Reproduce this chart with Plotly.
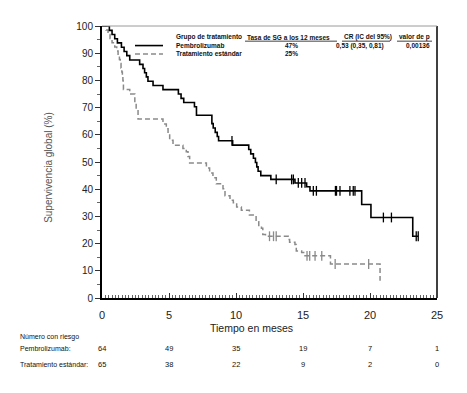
import plotly.graph_objects as go

# ---------------- data ----------------
pembro_event_t = [0.55, 0.75, 0.95, 1.15, 1.45, 1.65, 1.85, 2.07, 2.81, 3.06,
                  3.18, 3.31, 3.43, 3.81, 4.55, 5.70, 5.90, 6.10, 6.90, 7.05,
                  8.20, 8.30, 8.45, 8.60, 8.70, 9.75, 10.95, 11.10, 11.30, 11.45,
                  11.55, 11.65, 11.85, 12.60, 14.40, 15.27, 15.52, 19.38, 20.07, 23.19]
pembro_surv = [98.4, 96.9, 95.3, 93.8, 92.2, 90.6, 89.1, 87.5, 85.9, 84.4,
               82.8, 81.3, 79.7, 78.1, 76.6, 75.0, 73.4, 71.9, 70.3, 67.2,
               64.1, 62.5, 60.9, 59.4, 57.8, 56.2, 54.6, 53.0, 51.4, 49.8,
               48.2, 46.6, 45.0, 43.6, 42.3, 40.9, 39.4, 34.4, 29.6, 22.7]
pembro_end = 23.6
pembro_censor_t = [9.70, 13.0, 14.15, 14.28, 14.65, 14.90, 15.15, 15.77, 16.0,
                   17.42, 17.50, 17.76, 18.50, 18.75, 18.88, 21.0, 21.6, 23.45, 23.6]

std_event_t = [0.30, 0.45, 0.60, 0.75, 0.95, 1.10, 1.20, 1.30, 1.36, 1.42,
               1.48, 1.52, 1.56, 1.58, 1.60, 2.07, 2.45, 2.55, 2.69, 4.55,
               4.80, 4.93, 5.05, 5.30, 6.04, 6.29, 6.42, 6.54, 7.79, 8.03,
               8.28, 8.53, 9.03, 9.18, 9.55, 9.80, 10.05, 10.40, 11.00, 11.50,
               11.70, 11.90, 12.00, 12.20, 13.90, 14.00, 14.40, 14.50, 14.90, 15.15,
               17.05, 20.75]
std_surv = [98.5, 96.9, 95.4, 93.8, 92.3, 90.8, 89.2, 87.7, 86.2, 84.6,
            83.1, 81.5, 80.0, 78.5, 76.7, 75.0, 71.8, 69.4, 65.8, 64.0,
            62.2, 60.4, 58.0, 56.2, 55.0, 53.8, 52.0, 49.6, 47.8, 46.0,
            44.2, 42.0, 40.2, 37.6, 35.9, 35.0, 33.5, 32.3, 30.5, 28.0,
            26.3, 25.6, 23.3, 22.7, 21.5, 20.5, 19.7, 17.3, 16.7, 15.5,
            12.5, 6.3]
std_end = 20.75
std_censor_t = [12.5, 12.8, 13.0, 15.3, 15.5, 15.9, 16.4, 17.4, 19.9]

risk_times = [0, 5, 10, 15, 20, 25]
risk_pembro = [64, 49, 35, 19, 7, 1]
risk_std = [65, 38, 22, 9, 2, 0]

x_ticks = [0, 5, 10, 15, 20, 25]
y_ticks = [0, 10, 20, 30, 40, 50, 60, 70, 80, 90, 100]

group_names = ["Pembrolizumab", "Tratamiento estándar"]
rate_12m = ["47%", "25%"]
hr_text = "0,53 (0,35, 0,81)"
p_text = "0,00136"

# ---------------- helpers ----------------
def step_xy(ev_t, surv, end):
    xs = [0.0] + list(ev_t)
    ys = [100.0] + list(surv)
    if end > xs[-1]:
        xs.append(end)
        ys.append(ys[-1])
    return xs, ys

def surv_at(ev_t, surv, t):
    s = 100.0
    for et, sv in zip(ev_t, surv):
        if et <= t:
            s = sv
    return s

# screen geometry (page has an 8px body margin)
OFF = 8
SW, SH = 467, 393
W, H = SW - OFF, SH - OFF
L, R, T, B = 102, 437, 20, 298   # plot box in screen pixels

def px(x):
    return (x - L) / (R - L)

def py(y):
    return (B - y) / (B - T)

FONT = "Liberation Sans, Arial, sans-serif"

fig = go.Figure()

px_, py_ = step_xy(pembro_event_t, pembro_surv, pembro_end)
sx_, sy_ = step_xy(std_event_t, std_surv, std_end)

GRAY = "#8a8a8a"
fig.add_trace(go.Scatter(x=sx_, y=sy_, mode="lines", line_shape="hv",
                         line=dict(color=GRAY, width=1.5, dash="5px,3px"),
                         showlegend=False, hoverinfo="skip"))
fig.add_trace(go.Scatter(x=px_, y=py_, mode="lines", line_shape="hv",
                         line=dict(color="black", width=1.6),
                         showlegend=False, hoverinfo="skip"))

fig.add_trace(go.Scatter(x=std_censor_t,
                         y=[surv_at(std_event_t, std_surv, t) for t in std_censor_t],
                         mode="markers",
                         marker=dict(symbol="line-ns", size=7,
                                     line=dict(color=GRAY, width=1.3)),
                         showlegend=False, hoverinfo="skip"))
fig.add_trace(go.Scatter(x=pembro_censor_t,
                         y=[surv_at(pembro_event_t, pembro_surv, t) for t in pembro_censor_t],
                         mode="markers",
                         marker=dict(symbol="line-ns", size=7,
                                     line=dict(color="black", width=1.3)),
                         showlegend=False, hoverinfo="skip"))

shapes = []
shapes.append(dict(type="line", xref="paper", yref="paper", x0=1, x1=1, y0=0, y1=1,
                   line=dict(color="black", width=1.5)))
shapes.append(dict(type="line", xref="paper", yref="paper", x0=0, x1=1, y0=1, y1=1,
                   line=dict(color="#9a9a9a", width=1)))
shapes.append(dict(type="line", xref="paper", yref="paper", x0=px(135), x1=px(163),
                   y0=py(40), y1=py(40), line=dict(color="black", width=1.6)))
shapes.append(dict(type="line", xref="paper", yref="paper", x0=px(135), x1=px(163),
                   y0=py(48.5), y1=py(48.5), line=dict(color=GRAY, width=1.5, dash="5px,3px")))

annotations = []

def txt(text, x, y, size=7, anchor="left", family=FONT, color="#111", bold=False):
    annotations.append(dict(text=("<b>%s</b>" % text) if bold else text,
                            xref="paper", yref="paper", x=px(x), y=py(y),
                            xanchor=anchor, yanchor="middle", showarrow=False,
                            font=dict(family=family, size=size, color=color)))

def underline(x0, x1, y):
    shapes.append(dict(type="line", xref="paper", yref="paper", x0=px(x0), x1=px(x1),
                       y0=py(y), y1=py(y), line=dict(color="#111", width=0.8)))

LS = 6.5  # legend-table font size
# legend table
txt("Grupo de tratamiento", 174, 31.5, size=LS, bold=True)
txt("Tasa de SG a los 12 meses", 245, 31.5, size=LS, bold=True)
underline(245, 337, 35.5)
txt("CR (IC del 95%)", 342, 31.5, size=LS, bold=True)
underline(342, 390, 35.5)
txt("valor de p", 397, 31.5, size=LS, bold=True)
underline(397, 432, 35.5)
txt(group_names[0], 174, 40, size=LS, bold=True)
txt(group_names[1], 174, 48.5, size=LS, bold=True)
txt(rate_12m[0], 291, 40, size=LS, anchor="center", bold=True)
txt(rate_12m[1], 291, 48.5, size=LS, anchor="center", bold=True)
txt(hr_text, 334, 40, size=LS, bold=True)
txt(p_text, 404, 40, size=LS, bold=True)

# axis titles
txt("Tiempo en meses", 251, 329, size=10.5, anchor="center", color="#222")
annotations.append(dict(text="Supervivencia global (%)", xref="paper", yref="paper",
                        x=px(49), y=py(165), textangle=-90, showarrow=False,
                        xanchor="center", yanchor="middle",
                        font=dict(family=FONT, size=10, color="#555")))

# risk table
txt("Número con riesgo", 18, 338)
txt("Pembrolizumab:", 18, 350)
txt("Tratamiento estándar:", 18, 366)
for t, a, b in zip(risk_times, risk_pembro, risk_std):
    annotations.append(dict(text=str(a), xref="x", yref="paper", x=t, y=py(350),
                            xanchor="center", yanchor="middle", showarrow=False,
                            font=dict(family=FONT, size=7.5, color="#111")))
    annotations.append(dict(text=str(b), xref="x", yref="paper", x=t, y=py(366),
                            xanchor="center", yanchor="middle", showarrow=False,
                            font=dict(family=FONT, size=7.5, color="#111")))

fig.update_layout(
    width=W, height=H, autosize=False,
    margin=dict(l=L - OFF, r=SW - R, t=T - OFF, b=SH - B, pad=0),
    paper_bgcolor="white", plot_bgcolor="white",
    showlegend=False,
    shapes=shapes, annotations=annotations,
    font=dict(family=FONT, size=11, color="#222"),
)
fig.update_xaxes(range=[0, 25], tickvals=x_ticks, ticks="inside", ticklen=5,
                 tickwidth=1, tickcolor="#333", showgrid=False, zeroline=False,
                 showline=True, linecolor="black", linewidth=2,
                 tickfont=dict(family=FONT, size=11, color="#222"),
                 minor=dict(dtick=0.25, ticks="inside", ticklen=3, tickcolor="#666", tickwidth=1),
                 ticklabelstandoff=6)
fig.update_yaxes(range=[0, 100], tickvals=y_ticks, ticks="outside", ticklen=5,
                 tickwidth=1, tickcolor="#333", showgrid=False, zeroline=False,
                 showline=True, linecolor="black", linewidth=2,
                 tickfont=dict(family=FONT, size=10, color="#222"),
                 minor=dict(dtick=5, ticks="outside", ticklen=3, tickcolor="#666", tickwidth=1))

fig.write_html("out.html")
